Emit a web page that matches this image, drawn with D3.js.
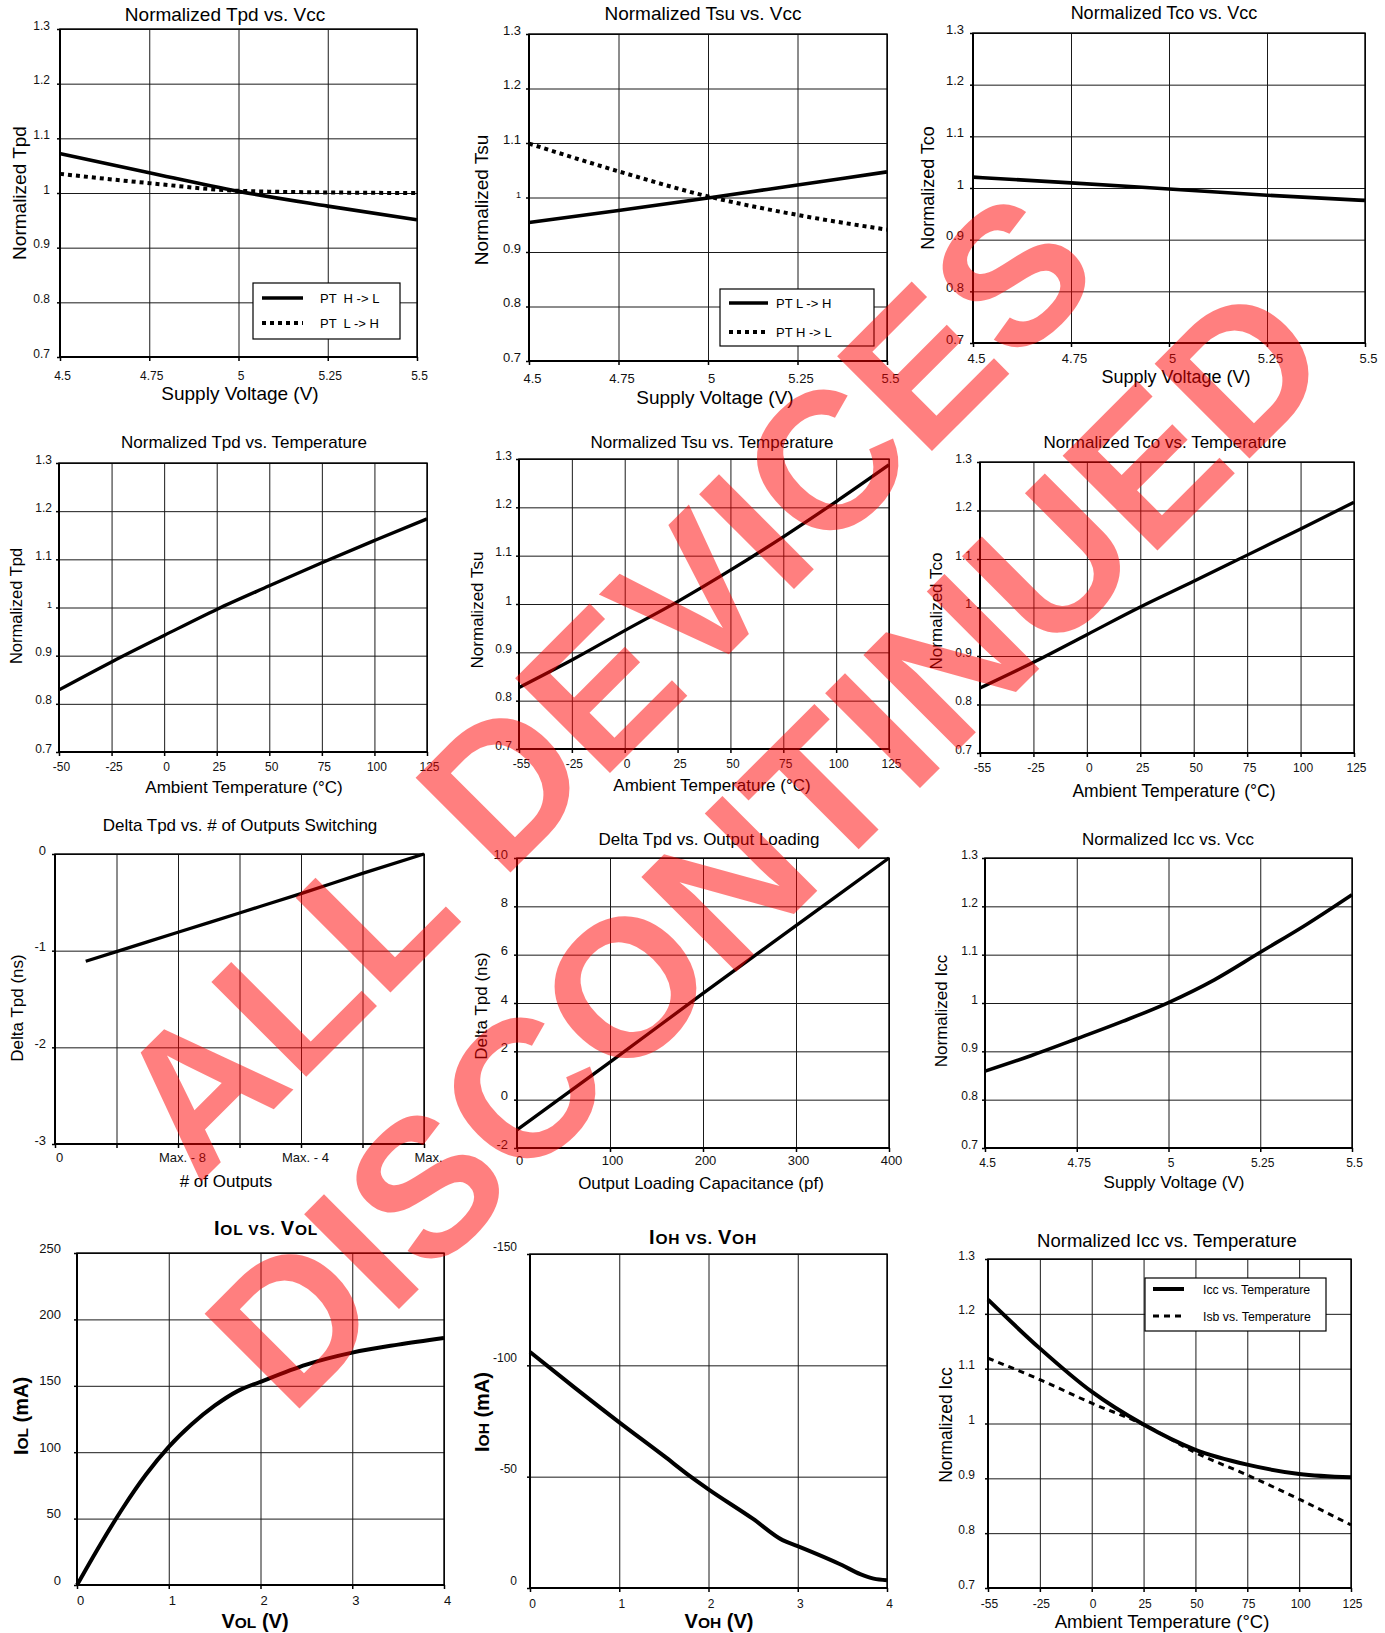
<!DOCTYPE html>
<html>
<head>
<meta charset="utf-8">
<script src="https://cdn.jsdelivr.net/npm/d3@7/dist/d3.min.js"></script>
<style>
  html, body { margin: 0; padding: 0; background: #fff; }
  svg { display: block; }
</style>
</head>
<body>
<svg id="chart" width="1385" height="1633"></svg>
<script>
// ---- Data ----------------------------------------------------------------
const vccTicks   = [4.5, 4.75, 5, 5.25, 5.5];
const tpdVccHL   = [1.072, 1.037, 1.003, 0.976, 0.951];
const tpdVccLH   = [1.035, 1.018, 1.004, 1.001, 1.000];
const tsuVccLH   = [0.954, 0.976, 0.999, 1.023, 1.047];
const tsuVccHL   = [1.099, 1.048, 1.002, 0.968, 0.941];
const tcoVcc     = [1.021, 1.010, 0.998, 0.986, 0.976];

const normTicks  = [0.7, 0.8, 0.9, 1.0, 1.1, 1.2, 1.3];

const tempTicksA = [-50, -25, 0, 25, 50, 75, 100, 125];
const tpdTemp    = [0.829, 0.887, 0.942, 0.996, 1.045, 1.093, 1.139, 1.184];

const tempLabels = ["-55", "-25", "0", "25", "50", "75", "100", "125"];
const tsuTemp    = [0.827, 0.884, 0.945, 1.005, 1.070, 1.139, 1.212, 1.288];
const tcoTemp    = [0.834, 0.887, 0.944, 1.001, 1.054, 1.108, 1.162, 1.217];
const iccTemp    = [1.226, 1.137, 1.058, 0.998, 0.952, 0.925, 0.908, 0.902];
const isbTemp    = [1.119, 1.080, 1.037, 0.998, 0.947, 0.906, 0.862, 0.815];

const outputsTicks  = [0, 2, 4, 6, 8, 10, 12];
const outputsLabels = {0: "0", 4: "Max. - 8", 8: "Max. - 4", 12: "Max."};
const outputsN      = [1, 2, 4, 6, 8, 10, 12];
const deltaTpdOut   = [-1.11, -1.01, -0.81, -0.61, -0.41, -0.20, 0];
const deltaOutTicks = [-3, -2, -1, 0];

const loadCap       = [0, 100, 200, 300, 400];
const deltaTpdLoad  = [-1.25, 1.55, 4.4, 7.2, 10.0];
const deltaLoadTicks = [-2, 0, 2, 4, 6, 8, 10];

const iccVccV       = [4.5, 4.625, 4.75, 4.875, 5, 5.125, 5.25, 5.375, 5.5];
const iccVcc        = [0.859, 0.891, 0.926, 0.962, 1.001, 1.048, 1.105, 1.162, 1.224];

const volTicks      = [0, 1, 2, 3, 4];
const volV          = [0, 0.25, 0.5, 0.75, 1, 1.25, 1.5, 1.75, 2, 2.5, 3, 3.5, 4];
const iolMA         = [0, 30, 58, 83, 104, 121, 135, 146, 153, 166, 175, 181, 186];
const iolTicks      = [0, 50, 100, 150, 200, 250];

const vohV          = [0, 0.5, 1, 1.5, 1.8, 2, 2.5, 2.83, 3, 3.5, 3.7, 3.85, 4];
const iohMA         = [-106, -90, -74.4, -59.3, -50, -44.3, -31, -21.5, -18.8, -10.2, -6.2, -4.2, -3.5];
const iohTicks      = [-150, -100, -50, 0];

const watermarkLines = ["ALL DEVICES", "DISCONTINUED"];

// ---- Drawing ---------------------------------------------------------------
const FONT = "'Liberation Sans', Arial, Helvetica, sans-serif";
const svg = d3.select("#chart");
svg.append("rect").attr("width", 1385).attr("height", 1633).attr("fill", "#fff");

function richText(sel, parts) {
  if (typeof parts === "string") { sel.text(parts); return; }
  parts.forEach(([t, fs]) => sel.append("tspan").attr("font-size", fs).text(t));
}

function panel(o) {
  const {L, R, T, B} = o.box;
  const x = o.x.range([L, R]);
  const y = o.y.range([B, T]);
  const g = svg.append("g");

  // grid lines
  g.append("g").attr("transform", `translate(0,${B})`)
    .call(d3.axisBottom(x).tickValues(o.xTicks).tickSize(-(B - T)).tickFormat(""))
    .call(s => s.select(".domain").remove())
    .selectAll("line").attr("stroke", "#1a1a1a").attr("stroke-width", 1);
  g.append("g").attr("transform", `translate(${L},0)`)
    .call(d3.axisLeft(y).tickValues(o.yTicks).tickSize(-(R - L)).tickFormat(""))
    .call(s => s.select(".domain").remove())
    .selectAll("line").attr("stroke", "#1a1a1a").attr("stroke-width", 1);

  // frame
  g.append("rect").attr("x", L).attr("y", T).attr("width", R - L).attr("height", B - T)
    .attr("fill", "none").attr("stroke", "#000").attr("stroke-width", 1.4);
  g.append("line").attr("x1", L).attr("x2", L).attr("y1", T).attr("y2", B)
    .attr("stroke", "#000").attr("stroke-width", 2);
  g.append("line").attr("x1", L - 1).attr("x2", R + 1).attr("y1", B).attr("y2", B)
    .attr("stroke", "#000").attr("stroke-width", 2.2);

  // tick stubs and labels
  const ax = g.append("g").attr("transform", `translate(0,${B})`)
    .call(d3.axisBottom(x).tickValues(o.xTicks).tickSize(4).tickFormat(o.xFmt || (d => d)))
    .call(s => s.select(".domain").remove());
  ax.attr("font-family", FONT).attr("font-size", o.tickFs || 12);
  ax.selectAll("line").attr("stroke", "#000").attr("stroke-width", 1.5);
  ax.selectAll("text").attr("fill", "#111").attr("dy", null)
    .attr("y", o.xLabBase - B).attr("dx", o.xLabDx || 0);

  const ay = g.append("g").attr("transform", `translate(${L},0)`)
    .call(d3.axisLeft(y).tickValues(o.yTicks).tickSize(3).tickFormat(o.yFmt || (d => d)))
    .call(s => s.select(".domain").remove());
  ay.attr("font-family", FONT).attr("font-size", o.tickFs || 12);
  ay.selectAll("line").attr("stroke", "#000").attr("stroke-width", 1.5);
  ay.selectAll("text").attr("fill", "#111").attr("dy", o.yLabDy || 0).attr("x", -(o.yLabGap || 9));
  if (o.smallOne) ay.selectAll("text").filter(d => d === 1).attr("font-size", 9);

  // titles
  const t = g.append("text").attr("x", o.title.x).attr("y", o.title.y)
    .attr("text-anchor", "middle").attr("font-family", FONT).attr("font-size", o.title.fs)
    .attr("font-weight", o.bold ? "bold" : "normal").attr("letter-spacing", o.bold ? 0.8 : 0)
    .attr("fill", "#000");
  richText(t, o.title.text);
  const xt = g.append("text").attr("x", o.xTitle.x).attr("y", o.xTitle.y)
    .attr("text-anchor", "middle").attr("font-family", FONT).attr("font-size", o.xTitle.fs)
    .attr("font-weight", o.bold ? "bold" : "normal").attr("fill", "#000");
  richText(xt, o.xTitle.text);
  const yt = g.append("text")
    .attr("transform", `translate(${o.yTitle.x},${o.yTitle.y}) rotate(-90)`)
    .attr("text-anchor", "middle").attr("font-family", FONT).attr("font-size", o.yTitle.fs)
    .attr("font-weight", o.bold ? "bold" : "normal").attr("fill", "#000");
  richText(yt, o.yTitle.text);

  // curves
  o.series.forEach(s => {
    const pts = s.x.map((xv, i) => [x(xv), y(s.y[i])]);
    g.append("path")
      .attr("d", d3.line().curve(d3.curveMonotoneX)(pts))
      .attr("fill", "none").attr("stroke", "#000")
      .attr("stroke-width", s.w || 3.6)
      .attr("stroke-dasharray", s.dash || null)
      .attr("stroke-linecap", "butt").attr("stroke-linejoin", "round");
  });

  // legend
  if (o.legend) {
    const lg = o.legend;
    g.append("rect").attr("x", lg.x0).attr("y", lg.y0).attr("width", lg.x1 - lg.x0)
      .attr("height", lg.y1 - lg.y0).attr("fill", "#fff").attr("stroke", "#000").attr("stroke-width", 1.2);
    lg.items.forEach(it => {
      g.append("line").attr("x1", lg.lx0).attr("x2", lg.lx1).attr("y1", it.y).attr("y2", it.y)
        .attr("stroke", "#000").attr("stroke-width", it.w || 3.6)
        .attr("stroke-dasharray", it.dash || null);
      g.append("text").attr("x", lg.tx).attr("y", it.y + 4.5)
        .attr("font-family", FONT).attr("font-size", lg.fs).attr("fill", "#000")
        .style("white-space", "pre").text(it.label);
    });
  }
}

const lin = (a, b) => d3.scaleLinear().domain([a, b]);
const fmtNorm = d => (d === 1 ? "1" : d3.format(".1f")(d));

// Row 1 -- supply voltage
panel({
  box: {L: 60, R: 417, T: 29, B: 357},
  x: lin(4.5, 5.5), y: lin(0.7, 1.3), xTicks: vccTicks, yTicks: normTicks, yFmt: fmtNorm,
  xLabBase: 380, xLabDx: 2, yLabGap: 10,
  title: {text: "Normalized Tpd vs. Vcc", x: 225, y: 21, fs: 19},
  xTitle: {text: "Supply Voltage (V)", x: 240, y: 400, fs: 19},
  yTitle: {text: "Normalized Tpd", x: 26, y: 193, fs: 19},
  series: [
    {x: vccTicks, y: tpdVccHL},
    {x: vccTicks, y: tpdVccLH, dash: "4,4", w: 4}
  ],
  legend: {x0: 253, y0: 283, x1: 400, y1: 339, lx0: 262, lx1: 303, tx: 320, fs: 13,
    items: [{y: 298, label: "PT  H -> L"}, {y: 323, label: "PT  L -> H", dash: "4,4", w: 4}]}
});
panel({
  box: {L: 529, R: 887, T: 34, B: 361},
  x: lin(4.5, 5.5), y: lin(0.7, 1.3), xTicks: vccTicks, yTicks: normTicks, yFmt: fmtNorm,
  xLabBase: 383, xLabDx: 3, yLabGap: 8, smallOne: true, tickFs: 13,
  title: {text: "Normalized Tsu vs. Vcc", x: 703, y: 20, fs: 19},
  xTitle: {text: "Supply Voltage (V)", x: 715, y: 404, fs: 19},
  yTitle: {text: "Normalized Tsu", x: 488, y: 200, fs: 19},
  series: [
    {x: vccTicks, y: tsuVccLH},
    {x: vccTicks, y: tsuVccHL, dash: "4,4", w: 4}
  ],
  legend: {x0: 720, y0: 289, x1: 874, y1: 346, lx0: 729, lx1: 768, tx: 776, fs: 13,
    items: [{y: 303, label: "PT L -> H"}, {y: 332, label: "PT H -> L", dash: "4,4", w: 4}]}
});
panel({
  box: {L: 973, R: 1365, T: 33, B: 343},
  x: lin(4.5, 5.5), y: lin(0.7, 1.3), xTicks: vccTicks, yTicks: normTicks, yFmt: fmtNorm,
  xLabBase: 363, xLabDx: 3, yLabGap: 9, tickFs: 13,
  title: {text: "Normalized Tco vs. Vcc", x: 1164, y: 19, fs: 18},
  xTitle: {text: "Supply Voltage (V)", x: 1176, y: 383, fs: 18},
  yTitle: {text: "Normalized Tco", x: 934, y: 188, fs: 18},
  series: [{x: vccTicks, y: tcoVcc}]
});

// Row 2 -- temperature
panel({
  box: {L: 59, R: 427, T: 463, B: 752},
  x: lin(-50, 125), y: lin(0.7, 1.3), xTicks: tempTicksA, yTicks: normTicks, yFmt: fmtNorm,
  xLabBase: 771, xLabDx: 2, yLabGap: 7, smallOne: true,
  title: {text: "Normalized Tpd vs. Temperature", x: 244, y: 448, fs: 17},
  xTitle: {text: "Ambient Temperature (°C)", x: 244, y: 793, fs: 17},
  yTitle: {text: "Normalized Tpd", x: 22, y: 606, fs: 16.5},
  series: [{x: tempTicksA, y: tpdTemp, w: 3.3}]
});
panel({
  box: {L: 519, R: 889, T: 459, B: 749},
  x: d3.scalePoint().domain(tempLabels), y: lin(0.7, 1.3), xTicks: tempLabels, yTicks: normTicks, yFmt: fmtNorm,
  xLabBase: 768, xLabDx: 2, yLabGap: 7,
  title: {text: "Normalized Tsu vs. Temperature", x: 712, y: 448, fs: 17},
  xTitle: {text: "Ambient Temperature (°C)", x: 712, y: 791, fs: 17},
  yTitle: {text: "Normalized Tsu", x: 483, y: 610, fs: 17},
  series: [{x: tempLabels, y: tsuTemp, w: 3.3}]
});
panel({
  box: {L: 980, R: 1354, T: 462, B: 753},
  x: d3.scalePoint().domain(tempLabels), y: lin(0.7, 1.3), xTicks: tempLabels, yTicks: normTicks, yFmt: fmtNorm,
  xLabBase: 772, xLabDx: 2, yLabGap: 8,
  title: {text: "Normalized Tco vs. Temperature", x: 1165, y: 448, fs: 17},
  xTitle: {text: "Ambient Temperature (°C)", x: 1174, y: 797, fs: 17.5},
  yTitle: {text: "Normalized Tco", x: 942, y: 611, fs: 17},
  series: [{x: tempLabels, y: tcoTemp, w: 3.3}]
});

// Row 3 -- outputs, loading, Icc vs Vcc
panel({
  box: {L: 55, R: 424, T: 854, B: 1144},
  x: lin(0, 12), y: lin(-3, 0), xTicks: outputsTicks, yTicks: deltaOutTicks,
  xFmt: d => outputsLabels[d] || "", yFmt: d => d,
  xLabBase: 1162, xLabDx: 4, yLabGap: 9, tickFs: 13,
  title: {text: "Delta Tpd vs. # of Outputs Switching", x: 240, y: 831, fs: 17},
  xTitle: {text: "# of Outputs", x: 226, y: 1187, fs: 17},
  yTitle: {text: "Delta Tpd (ns)", x: 23, y: 1008, fs: 17},
  series: [{x: outputsN, y: deltaTpdOut, w: 3.3}]
});
panel({
  box: {L: 517, R: 889, T: 858, B: 1148},
  x: lin(0, 400), y: lin(-2, 10), xTicks: loadCap, yTicks: deltaLoadTicks,
  xLabBase: 1165, xLabDx: 2, yLabGap: 9, tickFs: 13,
  title: {text: "Delta Tpd vs. Output Loading", x: 709, y: 845, fs: 17},
  xTitle: {text: "Output Loading Capacitance (pf)", x: 701, y: 1189, fs: 17},
  yTitle: {text: "Delta Tpd (ns)", x: 487, y: 1006, fs: 17},
  series: [{x: loadCap, y: deltaTpdLoad, w: 3.3}]
});
panel({
  box: {L: 985, R: 1352, T: 858, B: 1148},
  x: lin(4.5, 5.5), y: lin(0.7, 1.3), xTicks: vccTicks, yTicks: normTicks, yFmt: fmtNorm,
  xLabBase: 1167, xLabDx: 2, yLabGap: 7,
  title: {text: "Normalized Icc vs. Vcc", x: 1168, y: 845, fs: 17},
  xTitle: {text: "Supply Voltage (V)", x: 1174, y: 1188, fs: 17},
  yTitle: {text: "Normalized Icc", x: 947, y: 1011, fs: 17},
  series: [{x: iccVccV, y: iccVcc, w: 3.6}]
});

// Row 4 -- output drive and Icc vs temperature
panel({
  box: {L: 77, R: 444, T: 1253, B: 1585},
  x: lin(0, 4), y: lin(0, 250), xTicks: volTicks, yTicks: iolTicks,
  xLabBase: 1605, xLabDx: 3, yLabGap: 16, yLabDy: -1, tickFs: 13, bold: true,
  title: {text: [["I", 20], ["OL", 15.5], [" VS. ", 15.5], ["V", 20], ["OL", 15.5]], x: 266, y: 1235, fs: 20},
  xTitle: {text: [["V", 20], ["OL", 15.5], [" (V)", 20]], x: 255, y: 1628, fs: 20},
  yTitle: {text: [["I", 20], ["OL", 15.5], [" (mA)", 20]], x: 28, y: 1416, fs: 20},
  series: [{x: volV, y: iolMA, w: 4}]
});
panel({
  box: {L: 530, R: 887, T: 1254, B: 1588},
  x: lin(0, 4), y: lin(0, -150), xTicks: volTicks, yTicks: iohTicks,
  xLabBase: 1608, xLabDx: 2, yLabGap: 13, yLabDy: -4, tickFs: 12, bold: true,
  title: {text: [["I", 20], ["OH", 15.5], [" VS. ", 15.5], ["V", 20], ["OH", 15.5]], x: 703, y: 1244, fs: 20},
  xTitle: {text: [["V", 20], ["OH", 15.5], [" (V)", 20]], x: 719, y: 1628, fs: 20},
  yTitle: {text: [["I", 20], ["OH", 15.5], [" (mA)", 20]], x: 489, y: 1412, fs: 20},
  series: [{x: vohV, y: iohMA, w: 4}]
});
panel({
  box: {L: 988, R: 1351, T: 1259, B: 1588},
  x: d3.scalePoint().domain(tempLabels), y: lin(0.7, 1.3), xTicks: tempLabels, yTicks: normTicks, yFmt: fmtNorm,
  xLabBase: 1608, xLabDx: 1, yLabGap: 13, tickFs: 12,
  title: {text: "Normalized Icc vs. Temperature", x: 1167, y: 1247, fs: 18.5},
  xTitle: {text: "Ambient Temperature (°C)", x: 1162, y: 1628, fs: 18.5},
  yTitle: {text: "Normalized Icc", x: 952, y: 1425, fs: 17.5},
  series: [
    {x: tempLabels, y: iccTemp, w: 4},
    {x: tempLabels, y: isbTemp, w: 3, dash: "6,5"}
  ],
  legend: {x0: 1145, y0: 1278, x1: 1326, y1: 1331, lx0: 1153, lx1: 1184, tx: 1203, fs: 12.3,
    items: [{y: 1289, label: "Icc vs. Temperature", w: 4}, {y: 1316, label: "Isb vs. Temperature", w: 3, dash: "6,5"}]}
});

// ---- Status overlay --------------------------------------------------------
const wm = svg.append("g").attr("pointer-events", "none");
const wmPos = [[652, 731], [815, 893]];
watermarkLines.forEach((txt, i) => {
  wm.append("text")
    .attr("transform", `translate(${wmPos[i][0]},${wmPos[i][1]}) rotate(-45)`)
    .attr("text-anchor", "middle")
    .attr("font-family", FONT).attr("font-weight", "bold").attr("font-size", 195)
    .attr("fill", "rgb(255,0,0)").attr("fill-opacity", 0.5)
    .text(txt);
});
</script>
</body>
</html>
